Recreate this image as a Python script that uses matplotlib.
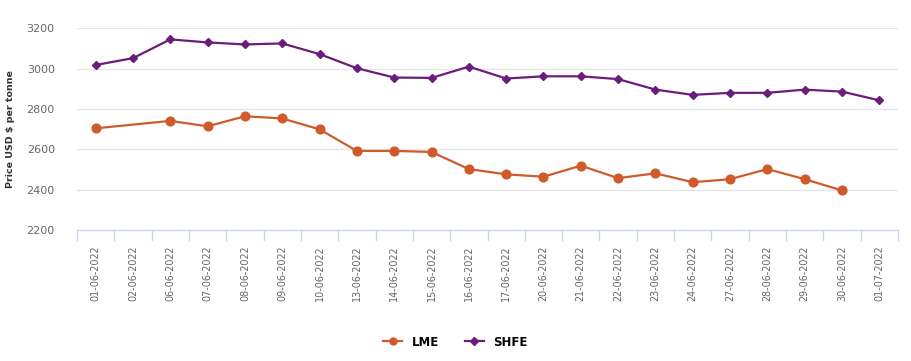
import numpy as np
import matplotlib
matplotlib.use('Agg')
from matplotlib import pyplot as plt

dates = ['01-06-2022', '02-06-2022', '06-06-2022', '07-06-2022', '08-06-2022',
         '09-06-2022', '10-06-2022', '13-06-2022', '14-06-2022', '15-06-2022',
         '16-06-2022', '17-06-2022', '20-06-2022', '21-06-2022', '22-06-2022',
         '23-06-2022', '24-06-2022', '27-06-2022', '28-06-2022', '29-06-2022',
         '30-06-2022', '01-07-2022']
lme = [2704, None, 2741, 2714, 2764, 2753, 2699, 2592, 2592, 2587,
       2502, 2476, 2464, 2519, 2457, 2481, 2437, 2452, 2502, 2452,
       2396, None]
shfe = [3018, 3052, 3145, 3130, 3120, 3125, 3072, 3002, 2956, 2954,
        3010, 2951, 2962, 2962, 2948, 2896, 2870, 2880, 2880, 2896,
        2886, 2843]
yticks = [2200, 2400, 2600, 2800, 3000, 3200]

LME_COLOR = '#cf5a2c'
SHFE_COLOR = '#6b1d7c'
GRID = '#e6e6e6'
AXIS = '#ccd6eb'
TXT = '#666666'

fig = plt.figure(figsize=(9.11, 3.61), dpi=100)
ax = fig.add_axes([77/911, 1-230/361, (898-77)/911, (230-28.3)/361])

x = np.arange(len(dates))
lx = [i for i, v in enumerate(lme) if v is not None]
ly = [v for v in lme if v is not None]

ax.plot(lx, ly, color=LME_COLOR, lw=1.6, marker='o', ms=6.3, label='LME', zorder=3)
ax.plot(x, shfe, color=SHFE_COLOR, lw=1.6, marker='D', ms=4.5, label='SHFE', zorder=3)

ax.set_xlim(-0.5, len(dates)-0.5)
ax.set_ylim(2200, 3200)
ax.set_yticks(yticks)
ax.set_yticklabels([str(t) for t in yticks], fontsize=8, color=TXT)
ax.yaxis.grid(True, color=GRID, lw=1)
ax.set_axisbelow(True)
ax.tick_params(axis='y', length=0, pad=16)

ax.set_xticks(x)
ax.set_xticklabels(dates, rotation=90, fontsize=6.9, color=TXT, va='top')
ax.set_xticks(np.arange(-0.5, len(dates)), minor=True)
ax.tick_params(axis='x', which='major', length=0, pad=11)
ax.tick_params(axis='x', which='minor', length=8, color=AXIS, width=1)

for s in ['top', 'right', 'left']:
    ax.spines[s].set_visible(False)
ax.spines['bottom'].set_color(AXIS)
ax.spines['bottom'].set_linewidth(1)

ax.set_ylabel('Price USD $ per tonne', fontsize=6.8, fontweight='bold', color='#333333', labelpad=8)

fig.legend(loc='center', bbox_to_anchor=(0.5, 1-342/361), ncol=2, frameon=False,
           handlelength=1.6, columnspacing=2.2, markerscale=0.8,
           prop={'weight': 'bold', 'size': 8.5})

fig.savefig('out.png', dpi=100, facecolor='white')
